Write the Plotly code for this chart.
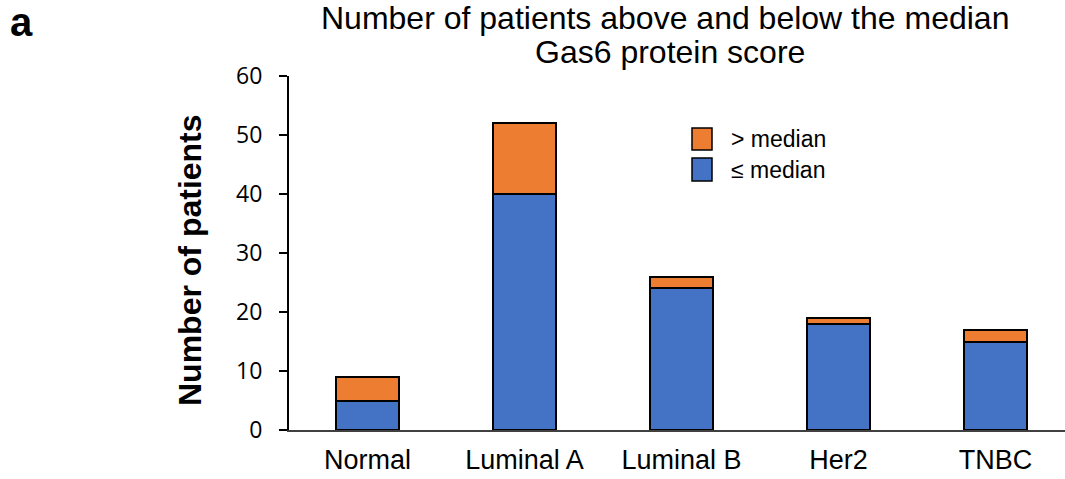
import plotly.graph_objects as go

# Patient counts by subtype, split at the median Gas6 protein score
subtypes = ["Normal", "Luminal A", "Luminal B", "Her2", "TNBC"]
at_or_below_median = [5, 40, 24, 18, 15]
above_median = [4, 12, 2, 1, 2]
y_ticks = [0, 10, 20, 30, 40, 50, 60]

BLUE = "#4472C4"
ORANGE = "#ED7D31"

W, H = 1065, 479
L, R, T, B = 289, 0, 76, 49
PW, PH = W - L - R, H - T - B


def px_x(p):
    return (p - L) / PW


def px_y(p):
    return (H - B - p) / PH


fig = go.Figure()
fig.add_trace(go.Bar(
    x=subtypes, y=at_or_below_median, name="\u2264 median",
    marker=dict(color=BLUE, line=dict(color="black", width=2)),
    width=0.4,
))
fig.add_trace(go.Bar(
    x=subtypes, y=above_median, name="> median",
    marker=dict(color=ORANGE, line=dict(color="black", width=2)),
    width=0.4,
))

annotations = [
    dict(text="Number of patients above and below the median", x=px_x(665), y=px_y(18),
         xref="paper", yref="paper", showarrow=False, xanchor="center", yanchor="middle",
         font=dict(family="Liberation Sans, Arial", size=32, color="black")),
    dict(text="Gas6 protein score", x=px_x(670), y=px_y(52),
         xref="paper", yref="paper", showarrow=False, xanchor="center", yanchor="middle",
         font=dict(family="Liberation Sans, Arial", size=32, color="black")),
    dict(text="<b>Number of patients</b>", x=px_x(190), y=px_y(260), textangle=-90,
         xref="paper", yref="paper", showarrow=False, xanchor="center", yanchor="middle",
         font=dict(family="Liberation Sans, Arial", size=32, color="black")),
    dict(text="<b>a</b>", x=px_x(8), y=px_y(22),
         xref="paper", yref="paper", showarrow=False, xanchor="left", yanchor="middle",
         font=dict(family="Liberation Sans, Arial", size=40, color="black")),
]

# Legend drawn as boxes with labels
shapes = []
legend_items = [("> median", ORANGE, 128, 150), ("\u2264 median", BLUE, 158, 181)]
for label, color, top, bottom in legend_items:
    shapes.append(dict(type="rect", xref="paper", yref="paper",
                       x0=px_x(692), x1=px_x(712), y0=px_y(bottom), y1=px_y(top),
                       fillcolor=color, line=dict(color="black", width=1.5)))
    annotations.append(dict(text=label, x=px_x(729), y=px_y((top + bottom) / 2),
                            xref="paper", yref="paper", showarrow=False,
                            xanchor="left", yanchor="middle",
                            font=dict(family="Liberation Sans, Arial", size=23, color="black")))

fig.update_layout(
    barmode="stack",
    width=W, height=H,
    margin=dict(l=L, r=R, t=T, b=B, pad=0, autoexpand=False),
    plot_bgcolor="white", paper_bgcolor="white",
    showlegend=False,
    annotations=annotations,
    shapes=shapes,
    xaxis=dict(
        range=[-0.5, -0.5 + PW / 157.0],
        showline=True, linecolor="#404040", linewidth=2,
        ticks="", showgrid=False, zeroline=False, automargin=False,
        ticklabelstandoff=5,
        tickfont=dict(family="Liberation Sans, Arial", size=27, color="black"),
    ),
    yaxis=dict(
        range=[0, 60], tickvals=y_ticks,
        showline=True, linecolor="black", linewidth=2,
        ticks="outside", ticklen=8, tickwidth=2, tickcolor="black",
        showgrid=False, zeroline=False, automargin=False,
        ticklabelstandoff=12,
        tickfont=dict(family="Open Sans", size=23, color="black"),
    ),
)

fig.write_html("out.html")
